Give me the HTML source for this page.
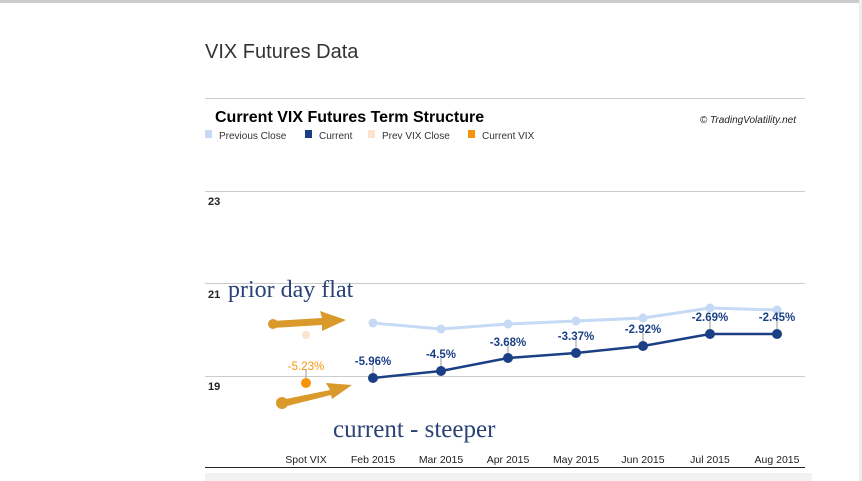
<!DOCTYPE html>
<html><head><style>
body{margin:0;width:862px;height:481px;background:#fff;overflow:hidden;font-family:"Liberation Sans",sans-serif;position:relative}
</style></head><body>
<svg width="862" height="481" style="position:absolute;left:0;top:0" font-family="Liberation Sans, sans-serif">
<rect x="0" y="0" width="862" height="3" fill="#ccc"/>
<rect x="859" y="0" width="3" height="481" fill="#eee"/>
<text x="205" y="58" font-size="20" fill="#333">VIX Futures Data</text>
<line x1="205" y1="98.5" x2="805" y2="98.5" stroke="#ccc"/>
<text x="215" y="122" font-size="16" font-weight="bold" fill="#000">Current VIX Futures Term Structure</text>
<text x="796" y="123" font-size="10" font-style="italic" fill="#222" text-anchor="end">© TradingVolatility.net</text>
<rect x="205" y="130" width="7" height="8" fill="#c6d9f5"/><text x="219" y="139" font-size="10" fill="#333">Previous Close</text>
<rect x="305" y="130" width="7" height="8" fill="#1b3f85"/><text x="319" y="139" font-size="10" fill="#333">Current</text>
<rect x="368" y="130" width="7" height="8" fill="#fbe3cc"/><text x="382" y="139" font-size="10" fill="#333">Prev VIX Close</text>
<rect x="468" y="130" width="7" height="8" fill="#f7940a"/><text x="482" y="139" font-size="10" fill="#333">Current VIX</text>
<line x1="205" y1="191.5" x2="805" y2="191.5" stroke="#ccc"/>
<line x1="205" y1="283.5" x2="805" y2="283.5" stroke="#ccc"/>
<line x1="205" y1="376.5" x2="805" y2="376.5" stroke="#ccc"/>
<text x="208" y="205" font-size="11" font-weight="bold" fill="#222">23</text>
<text x="208" y="298" font-size="11" font-weight="bold" fill="#222">21</text>
<text x="208" y="390" font-size="11" font-weight="bold" fill="#222">19</text>
<polyline points="373,323 441,329 508,324 576,321 643,318 710,308 777,310" fill="none" stroke="#c6d9f5" stroke-width="3"/>
<g fill="#c6d9f5"><circle cx="373" cy="323" r="4.5"/><circle cx="441" cy="329" r="4.5"/><circle cx="508" cy="324" r="4.5"/><circle cx="576" cy="321" r="4.5"/><circle cx="643" cy="318" r="4.5"/><circle cx="710" cy="308" r="4.5"/><circle cx="777" cy="310" r="4.5"/></g>
<circle cx="306" cy="335" r="4" fill="#fbe3cc"/>
<polyline points="373,378 441,371 508,358 576,353 643,346 710,334 777,334" fill="none" stroke="#1b3f85" stroke-width="2.5"/>
<g fill="#1b3f85"><circle cx="373" cy="378" r="5"/><circle cx="441" cy="371" r="5"/><circle cx="508" cy="358" r="5"/><circle cx="576" cy="353" r="5"/><circle cx="643" cy="346" r="5"/><circle cx="710" cy="334" r="5"/><circle cx="777" cy="334" r="5"/></g>
<circle cx="306" cy="383" r="5" fill="#f7940a"/>
<g stroke="#999"><line x1="306" y1="370" x2="306" y2="378"/><line x1="373" y1="365" x2="373" y2="373"/><line x1="441" y1="358" x2="441" y2="366"/><line x1="508" y1="346" x2="508" y2="353"/><line x1="576" y1="340" x2="576" y2="348"/><line x1="643" y1="333" x2="643" y2="341"/><line x1="710" y1="321" x2="710" y2="329"/><line x1="777" y1="321" x2="777" y2="329"/></g>
<g font-size="11.5" font-weight="bold" text-anchor="middle" fill="#1b3f85">
<text x="306" y="370" fill="#f7940a" font-weight="normal">-5.23%</text>
<text x="373" y="365">-5.96%</text><text x="441" y="358">-4.5%</text><text x="508" y="346">-3.68%</text><text x="576" y="340">-3.37%</text><text x="643" y="333">-2.92%</text><text x="710" y="321">-2.69%</text><text x="777" y="321">-2.45%</text></g>
<g font-size="10.5" text-anchor="middle" fill="#222">
<text x="306" y="463">Spot VIX</text><text x="373" y="463">Feb 2015</text><text x="441" y="463">Mar 2015</text><text x="508" y="463">Apr 2015</text><text x="576" y="463">May 2015</text><text x="643" y="463">Jun 2015</text><text x="710" y="463">Jul 2015</text><text x="777" y="463">Aug 2015</text></g>
<line x1="205" y1="467.5" x2="805" y2="467.5" stroke="#222"/>
<rect x="205" y="473" width="607" height="8" fill="#f2f2f2"/>
<g fill="#d99a2b">
<polygon points="272,321 322,318 320,311 346,320 322,331 322,325 272,328"/>
<circle cx="273" cy="324" r="5"/>
<polygon points="281,400 330,390 326,383 352,385 332,399 331,395 283,407"/>
<circle cx="282" cy="403" r="6"/>
</g>
<text x="228" y="297" font-family="Liberation Serif, serif" font-size="24" fill="#2a4275">prior day flat</text>
<text x="333" y="437" font-family="Liberation Serif, serif" font-size="25" fill="#2a4275">current - steeper</text>
</svg>
</body></html>
